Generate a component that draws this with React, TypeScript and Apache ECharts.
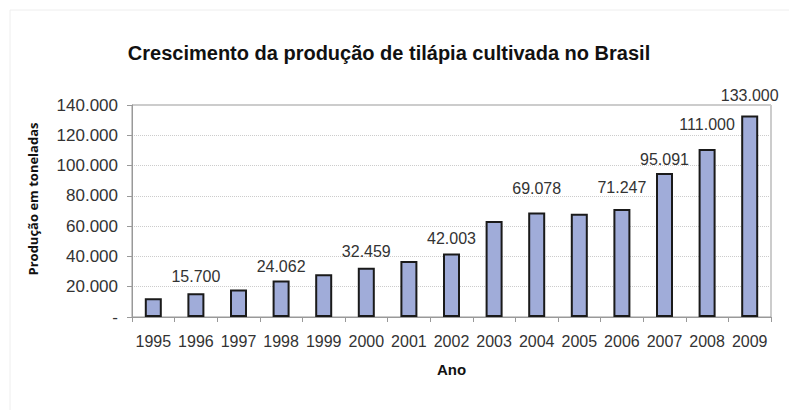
import React, { useEffect, useRef } from "react";
import * as echarts from "echarts";

const years = ["1995","1996","1997","1998","1999","2000","2001","2002","2003","2004","2005","2006","2007","2008","2009"];
const production = [12300, 15700, 18200, 24062, 28300, 32459, 37000, 42003, 63400, 69078, 68200, 71247, 95091, 111000, 133000];
const labeledYears = ["1996","1998","2000","2002","2004","2006","2007","2008","2009"];
const yTicks = [0, 20000, 40000, 60000, 80000, 100000, 120000, 140000];

const fmt = (v: number) => (v === 0 ? "-" : String(v).replace(/\B(?=(\d{3})+(?!\d))/g, "."));

export default function App() {
  const ref = useRef<HTMLDivElement>(null);
  useEffect(() => {
    if (!ref.current) return;
    const chart = echarts.init(ref.current, null, { renderer: "svg" });
    const labelGap: Record<string, number> = {
      "1996": 9, "1998": 6, "2000": 8, "2002": 7, "2004": 16, "2006": 14, "2007": 6, "2008": 16, "2009": 12,
    };
    const font = "Liberation Sans, Arial, sans-serif";
    chart.setOption({
      animation: false,
      backgroundColor: "#ffffff",
      title: {
        text: "Crescimento da produção de tilápia cultivada no Brasil",
        left: 384,
        textAlign: "center",
        top: 38,
        textStyle: { fontFamily: font, fontSize: 20, fontWeight: "bold", color: "#111" },
      },
      graphic: [
        {
          type: "rect",
          shape: { x: 10, y: 10, width: 800, height: 420 },
          style: { fill: "none", stroke: "#eeeeee", lineWidth: 1 },
          silent: true,
        },
        {
          type: "text",
          x: 33,
          y: 199,
          rotation: Math.PI / 2,
          style: {
            text: "Produção em toneladas",
            fontFamily: "Open Sans, sans-serif",
            fontSize: 13,
            fontWeight: "bold",
            fill: "#111",
            align: "center",
            verticalAlign: "middle",
          },
          silent: true,
        },
      ],
      grid: {
        left: 132,
        right: 18,
        top: 105,
        bottom: 93,
        show: true,
        borderColor: "#999",
        borderWidth: 1,
      },
      xAxis: {
        type: "category",
        data: years,
        name: "Ano",
        nameLocation: "middle",
        nameGap: 45,
        nameTextStyle: { fontFamily: font, fontSize: 15, fontWeight: "bold", color: "#111" },
        axisLine: { lineStyle: { color: "#999", width: 1 } },
        axisTick: { show: true, length: 5, alignWithLabel: false, lineStyle: { color: "#999" } },
        axisLabel: { interval: 0, fontFamily: font, fontSize: 16, color: "#333", margin: 16 },
      },
      yAxis: {
        type: "value",
        min: yTicks[0],
        max: yTicks[yTicks.length - 1],
        interval: 20000,
        axisLine: { show: true, lineStyle: { color: "#999", width: 1 } },
        axisTick: { show: true, length: 5, lineStyle: { color: "#999" } },
        axisLabel: { fontFamily: font, fontSize: 17, color: "#333", margin: 14, formatter: (v: number) => fmt(v) },
        splitLine: { show: true, lineStyle: { color: "#ccc", type: "dotted", width: 1 } },
      },
      series: [
        {
          type: "bar",
          barWidth: 17,
          itemStyle: { color: "#a0acd9", borderColor: "#1a1a1a", borderWidth: 2 },
          data: production.map((v, i) => {
            const y = years[i];
            const show = labeledYears.includes(y);
            return {
              value: v,
              label: {
                show,
                position: "top",
                distance: labelGap[y] ?? 8,
                fontFamily: font,
                fontSize: 16,
                color: "#333",
                formatter: () => fmt(v),
              },
            };
          }),
        },
      ],
    });
    return () => chart.dispose();
  }, []);
  return <div ref={ref} style={{ position: "absolute", left: 0, top: 0, width: 789, height: 410 }} />;
}
